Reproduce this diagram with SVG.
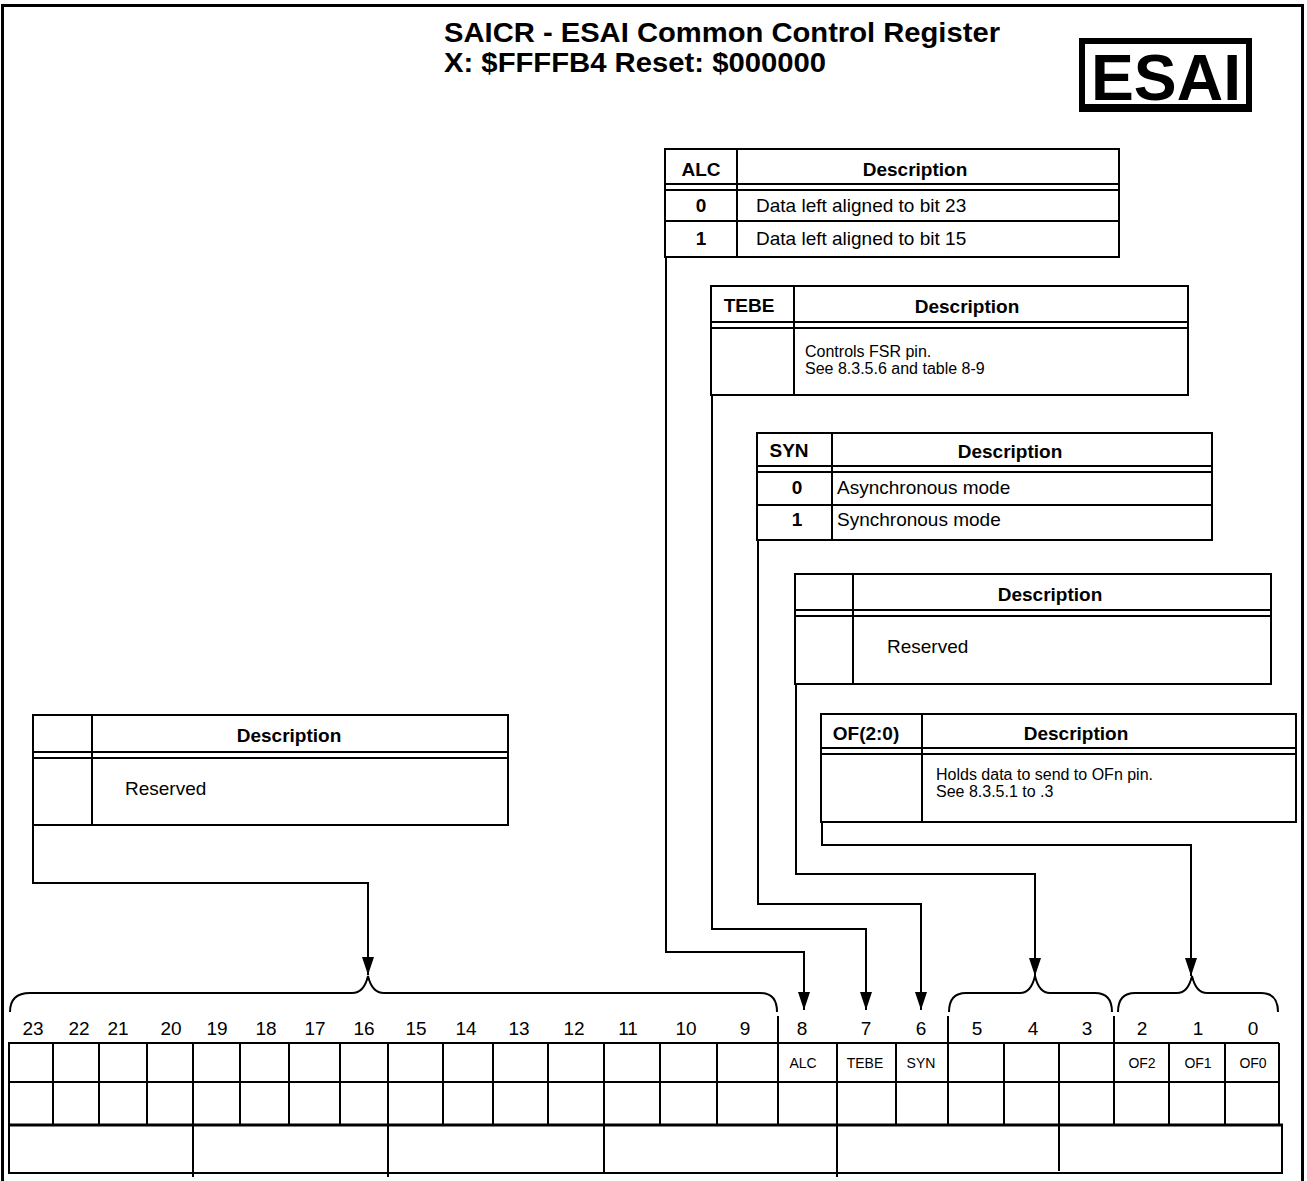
<svg xmlns="http://www.w3.org/2000/svg" width="1307" height="1181" viewBox="0 0 1307 1181">
<defs>
<style>
.ln{stroke:#000;stroke-width:2;fill:none}
.t{font-family:"Liberation Sans",Arial,sans-serif;fill:#000}
.hd{font-size:19px;font-weight:bold;text-anchor:middle}
.bd{font-size:19px;font-weight:bold;text-anchor:middle}
.tx{font-size:19px}
.sm{font-size:16px}
.num{font-size:19px;text-anchor:middle}
.fld{font-size:14px;text-anchor:middle}
</style>
<marker id="arr" markerUnits="userSpaceOnUse" markerWidth="18" markerHeight="12" refX="18" refY="6" orient="auto">
<path d="M0,0 L18,6 L0,12 Z" fill="#000"/>
</marker>
</defs>
<rect width="1307" height="1181" fill="#fff"/>
<path d="M2.5,1181 V5.5 H1302.5 V1181" fill="none" stroke="#000" stroke-width="3"/>

<g id="title">
<text class="t" x="444" y="42" font-size="28" font-weight="bold" textLength="556" lengthAdjust="spacingAndGlyphs">SAICR - ESAI Common Control Register</text>
<text class="t" x="444" y="72" font-size="28" font-weight="bold" textLength="382" lengthAdjust="spacingAndGlyphs">X: $FFFFB4 Reset: $000000</text>
</g>

<g id="esai-logo">
<rect x="1082" y="41" width="167" height="66" fill="none" stroke="#000" stroke-width="6"/>
<rect x="1079" y="104" width="173" height="8" fill="#000"/>
<text class="t" x="1091" y="100" font-size="64" font-weight="bold" textLength="150" lengthAdjust="spacingAndGlyphs">ESAI</text>
</g>

<g id="alc-table">
<rect class="ln" x="665" y="149" width="454" height="108"/>
<line class="ln" x1="737" y1="149" x2="737" y2="257"/>
<line class="ln" x1="665" y1="184" x2="1119" y2="184"/>
<line class="ln" x1="665" y1="190" x2="1119" y2="190"/>
<line class="ln" x1="665" y1="221" x2="1119" y2="221"/>
<text class="t hd" x="701" y="176">ALC</text>
<text class="t hd" x="915" y="176">Description</text>
<text class="t bd" x="701" y="212">0</text>
<text class="t tx" x="756" y="212">Data left aligned to bit 23</text>
<text class="t bd" x="701" y="245">1</text>
<text class="t tx" x="756" y="245">Data left aligned to bit 15</text>
</g>

<g id="tebe-table">
<rect class="ln" x="711" y="286" width="477" height="109"/>
<line class="ln" x1="794" y1="286" x2="794" y2="395"/>
<line class="ln" x1="711" y1="322" x2="1188" y2="322"/>
<line class="ln" x1="711" y1="328" x2="1188" y2="328"/>
<text class="t hd" x="749" y="312">TEBE</text>
<text class="t hd" x="967" y="313">Description</text>
<text class="t sm" x="805" y="357">Controls FSR pin.</text>
<text class="t sm" x="805" y="374">See 8.3.5.6 and table 8-9</text>
</g>

<g id="syn-table">
<rect class="ln" x="757" y="433" width="455" height="107"/>
<line class="ln" x1="832" y1="433" x2="832" y2="540"/>
<line class="ln" x1="757" y1="466" x2="1212" y2="466"/>
<line class="ln" x1="757" y1="472" x2="1212" y2="472"/>
<line class="ln" x1="757" y1="505" x2="1212" y2="505"/>
<text class="t hd" x="789" y="457">SYN</text>
<text class="t hd" x="1010" y="458">Description</text>
<text class="t bd" x="797" y="494">0</text>
<text class="t tx" x="837" y="494">Asynchronous mode</text>
<text class="t bd" x="797" y="526">1</text>
<text class="t tx" x="837" y="526">Synchronous mode</text>
</g>

<g id="reserved53-table">
<rect class="ln" x="795" y="574" width="476" height="110"/>
<line class="ln" x1="853" y1="574" x2="853" y2="684"/>
<line class="ln" x1="795" y1="610" x2="1271" y2="610"/>
<line class="ln" x1="795" y1="616" x2="1271" y2="616"/>
<text class="t hd" x="1050" y="601">Description</text>
<text class="t tx" x="887" y="653">Reserved</text>
</g>

<g id="of-table">
<rect class="ln" x="821" y="714" width="475" height="108"/>
<line class="ln" x1="922" y1="714" x2="922" y2="822"/>
<line class="ln" x1="821" y1="748" x2="1296" y2="748"/>
<line class="ln" x1="821" y1="754" x2="1296" y2="754"/>
<text class="t hd" x="866" y="740">OF(2:0)</text>
<text class="t hd" x="1076" y="740">Description</text>
<text class="t sm" x="936" y="780">Holds data to send to OFn pin.</text>
<text class="t sm" x="936" y="797">See 8.3.5.1 to .3</text>
</g>

<g id="reserved-hi-table">
<rect class="ln" x="33" y="715" width="475" height="110"/>
<line class="ln" x1="92" y1="715" x2="92" y2="825"/>
<line class="ln" x1="33" y1="752" x2="508" y2="752"/>
<line class="ln" x1="33" y1="758" x2="508" y2="758"/>
<text class="t hd" x="289" y="742">Description</text>
<text class="t tx" x="125" y="795">Reserved</text>
</g>

<g id="connectors">
<path class="ln" d="M33,825 V883 H368 V975" marker-end="url(#arr)"/>
<path class="ln" d="M666,257 V952 H804 V1010" marker-end="url(#arr)"/>
<path class="ln" d="M712,395 V929 H866 V1010" marker-end="url(#arr)"/>
<path class="ln" d="M758,540 V904 H921 V1010" marker-end="url(#arr)"/>
<path class="ln" d="M796,684 V874 H1035 V976" marker-end="url(#arr)"/>
<path class="ln" d="M822,822 V845 H1191 V976" marker-end="url(#arr)"/>
</g>

<g id="braces">
<path class="ln" d="M10,1012 Q10,993 30,993 H352 Q364,993 368,976 Q372,993 384,993 H760 Q777,993 777,1012"/>
<path class="ln" d="M949,1012 Q949,993 966,993 H1020 Q1031,993 1035,976 Q1039,993 1050,993 H1095 Q1112,993 1112,1012"/>
<path class="ln" d="M1118,1012 Q1118,993 1135,993 H1177 Q1188,993 1192,976 Q1196,993 1207,993 H1261 Q1278,993 1278,1012"/>
</g>

<g id="register">
<line class="ln" x1="778" y1="1016" x2="778" y2="1043"/>
<line class="ln" x1="948" y1="1016" x2="948" y2="1043"/>
<line class="ln" x1="1114" y1="1016" x2="1114" y2="1043"/>
<g class="t num">
<text x="33" y="1035">23</text><text x="79" y="1035">22</text><text x="118" y="1035">21</text><text x="171" y="1035">20</text>
<text x="217" y="1035">19</text><text x="266" y="1035">18</text><text x="315" y="1035">17</text><text x="364" y="1035">16</text>
<text x="416" y="1035">15</text><text x="466" y="1035">14</text><text x="519" y="1035">13</text><text x="574" y="1035">12</text>
<text x="628" y="1035">11</text><text x="686" y="1035">10</text><text x="745" y="1035">9</text><text x="802" y="1035">8</text>
<text x="866" y="1035">7</text><text x="921" y="1035">6</text><text x="977" y="1035">5</text><text x="1033" y="1035">4</text>
<text x="1087" y="1035">3</text><text x="1142" y="1035">2</text><text x="1198" y="1035">1</text><text x="1253" y="1035">0</text>
</g>
<line class="ln" x1="8" y1="1043" x2="1279" y2="1043"/>
<line class="ln" x1="8" y1="1082" x2="1279" y2="1082"/>
<line x1="8" y1="1125" x2="1283" y2="1125" stroke="#000" stroke-width="3"/>
<line class="ln" x1="8" y1="1173" x2="1283" y2="1173"/>
<line class="ln" x1="9" y1="1043" x2="9" y2="1173"/>
<line class="ln" x1="1279" y1="1043" x2="1279" y2="1125"/>
<line class="ln" x1="1282" y1="1125" x2="1282" y2="1173"/>
<path class="ln" d="M53,1043V1125 M99,1043V1125 M147,1043V1125 M193,1043V1125 M240,1043V1125 M289,1043V1125 M340,1043V1125 M388,1043V1125 M443,1043V1125 M493,1043V1125 M548,1043V1125 M604,1043V1125 M660,1043V1125 M717,1043V1125 M778,1043V1125 M837,1043V1125 M896,1043V1125 M948,1043V1125 M1004,1043V1125 M1059,1043V1125 M1114,1043V1125 M1169,1043V1125 M1225,1043V1125"/>
<path class="ln" d="M193,1125V1177 M388,1125V1177 M604,1125V1173 M837,1125V1177 M1059,1125V1171"/>
<g class="t fld">
<text x="803" y="1068">ALC</text><text x="865" y="1068">TEBE</text><text x="921" y="1068">SYN</text>
<text x="1142" y="1068">OF2</text><text x="1198" y="1068">OF1</text><text x="1253" y="1068">OF0</text>
</g>
</g>
</svg>
